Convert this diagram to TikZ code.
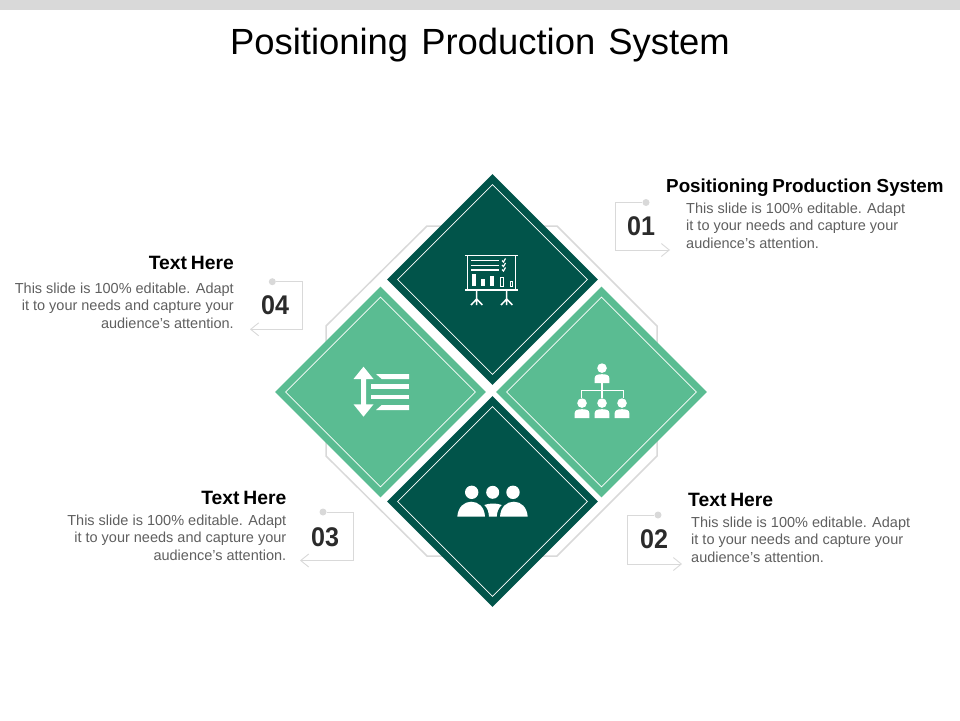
\documentclass[tikz,border=0pt]{standalone}
\usepackage{fontspec}
\setmainfont{Liberation Sans}
\usetikzlibrary{shapes.geometric,arrows.meta}
\definecolor{darkgreen}{HTML}{01544A}
\definecolor{lightgreen}{HTML}{5ABC92}
\definecolor{framegrey}{HTML}{D9D9D9}
\definecolor{bodygrey}{HTML}{5F5F5F}
\definecolor{numgrey}{HTML}{2B2B2B}
\tikzset{
  x=1pt,y=-1pt,
  bigdiamond/.style={diamond,aspect=1,inner sep=0,minimum width=211pt,minimum height=211pt,fill=#1},
  innerdiamond/.style={diamond,aspect=1,inner sep=0,minimum width=190pt,minimum height=190pt,draw=white,line width=0.8pt},
  octaline/.style={draw=framegrey,line width=1.5pt},
  boxline/.style={draw=framegrey,line width=0.9pt,-{Straight Barb[length=8pt,width=13pt,line width=0.9pt]}},
  pin/.style={circle,fill=framegrey,inner sep=0,minimum size=7pt},
  numlabel/.style={font=\bfseries\fontsize{27}{30}\selectfont,text=numgrey,inner sep=0},
  headleft/.style={font=\bfseries\fontsize{18.8}{20}\selectfont,text=black,inner sep=0,anchor=west},
  headright/.style={font=\bfseries\fontsize{19.3}{20}\selectfont,text=black,inner sep=0,anchor=east},
  bodyleft/.style={font=\fontsize{14.5}{17.5}\selectfont,text=bodygrey,inner sep=0,anchor=north west,align=left},
  bodyright/.style={font=\fontsize{14.5}{17.5}\selectfont,text=bodygrey,inner sep=0,anchor=north east,align=right},
  icon/.style={draw=white,line width=1.5pt,line cap=butt},
}
\newcommand{\personicon}[2]{%
  \fill[white] (#1,#2-5.9) circle (4.8);
  \fill[white] (#1-7.3,#2+9) -- (#1-7.3,#2+4) .. controls (#1-7.3,#2+1) and (#1-4,#2+0.2) .. (#1,#2+0.2) .. controls (#1+4,#2+0.2) and (#1+7.3,#2+1) .. (#1+7.3,#2+4) -- (#1+7.3,#2+9) -- cycle;
}
\newcommand{\narrownum}[1]{\scalebox{0.93}[1]{#1}}
\begin{document}
\begin{tikzpicture}
\useasboundingbox (0,0) rectangle (960,720);
\fill[framegrey] (0,0) rectangle (960,10);
\node[font=\fontsize{36.4}{40}\selectfont,text=black,inner sep=0] (title) at (480,45) {Positioning\hspace{3pt} Production\hspace{3pt} System};

% octagon frame
\draw[octaline] (427,226) -- (557,226) -- (657,326) -- (657,456) -- (557,556) -- (427,556) -- (326,456) -- (326,326) -- cycle;

% diamonds
\node[bigdiamond=darkgreen] (dtop) at (492.5,279.5) {};
\node[bigdiamond=lightgreen] (dleft) at (380.5,392) {};
\node[bigdiamond=lightgreen] (dright) at (601.5,392) {};
\node[bigdiamond=darkgreen] (dbottom) at (492.5,501.5) {};
\node[innerdiamond] (itop) at (492.5,279.5) {};
\node[innerdiamond] (ileft) at (380.5,392) {};
\node[innerdiamond] (iright) at (601.5,392) {};
\node[innerdiamond] (ibottom) at (492.5,501.5) {};

% board icon
\draw[icon] (465,255.7) -- (517.7,255.7);
\draw[icon] (465,290) -- (517.7,290);
\draw[icon] (467.3,255.7) -- (467.3,290);
\draw[icon] (515.7,255.7) -- (515.7,290);
\draw[icon,line width=1.2pt] (471,260.7) -- (499,260.7) (471,265.2) -- (499,265.2) (471,270) -- (499,270);
\draw[icon,line width=1.2pt] (502,260.5) -- (503.5,262) -- (505.5,258.5) (502,265) -- (503.5,266.5) -- (505.5,263) (502,269.5) -- (503.5,271) -- (505.5,267.5);
\fill[white] (471.5,274) rectangle (475.5,286);
\fill[white] (481,278.7) rectangle (484.5,286);
\fill[white] (490,276) rectangle (494,286);
\draw[white,line width=1pt] (500,277) rectangle (503.5,286);
\draw[white,line width=1pt] (510,281.5) rectangle (512.5,286);
\draw[icon] (476.7,290) -- (476.7,305) (471,305) -- (476.7,299) -- (482.4,305);
\draw[icon] (506.7,290) -- (506.7,305) (501,305) -- (506.7,299) -- (512.4,305);

% org chart icon
\personicon{602}{374}
\personicon{582}{409}
\personicon{602}{409}
\personicon{622}{409}
\draw[icon] (602,383) -- (602,398) (581.5,398) -- (581.5,390.3) -- (623.5,390.3) -- (623.5,398);

% list icon
\fill[white] (363.5,366.7) -- (373.5,379) -- (366,379) -- (366,404.3) -- (373.5,404.3) -- (363.5,416.7) -- (353.5,404.3) -- (361.2,404.3) -- (361.2,379) -- (353.5,379) -- cycle;
\fill[white] (376,374) -- (409,374) -- (409,379) -- (381.7,379) -- cycle;
\fill[white] (371,384.3) rectangle (409,389);
\fill[white] (371,394.7) rectangle (409,399.3);
\fill[white] (381.7,405) -- (409,405) -- (409,410) -- (376,410) -- cycle;

% people icon
\fill[white] (471.7,492.3) circle (6.7);
\fill[white] (492.7,492.3) circle (6.5);
\fill[white] (513,492.3) circle (6.7);
\fill[white] (457.3,516.7) .. controls (458,507) and (464,501.7) .. (471.2,501.7) .. controls (478.5,501.7) and (484.5,507) .. (485,516.7) -- cycle;
\fill[white] (500,516.7) .. controls (500.5,507) and (506.5,501.7) .. (513.8,501.7) .. controls (521,501.7) and (527,507) .. (527.7,516.7) -- cycle;
\fill[white] (484.3,505) .. controls (489,503) and (497,503) .. (501.7,505) .. controls (498.5,508) and (497,512) .. (496.7,516.7) -- (489,516.7) .. controls (488.7,512) and (487.5,508) .. (484.3,505) -- cycle;

% 01
\node[pin] (pin1) at (646,202.5) {};
\coordinate (tip1) at (670,250);
\coordinate (corner1) at (615,202.5);
\draw[boxline] (pin1) -- (corner1) |- (tip1);
\node[numlabel] (num1) at (641,226.3) {\narrownum{01}};
\node[headleft] (head1) at (666,188) {Positioning\hspace{-1.5pt} Production System};
\node[bodyleft] (body1) at (686,202.6) {This slide is 100\% editable. Adapt\\it to your needs and capture your\\audience’s attention.};

% 02
\node[pin] (pin2) at (658,515) {};
\coordinate (tip2) at (682,564);
\coordinate (corner2) at (627,515);
\draw[boxline] (pin2) -- (corner2) |- (tip2);
\node[numlabel] (num2) at (654,539.3) {\narrownum{02}};
\node[headleft,font=\bfseries\fontsize{19.3}{20}\selectfont] (head2) at (688,500) {Text\hspace{-1.5pt} Here};
\node[bodyleft] (body2) at (691,516.6) {This slide is 100\% editable. Adapt\\it to your needs and capture your\\audience’s attention.};

% 03
\node[pin] (pin3) at (323,512) {};
\coordinate (tip3) at (300,560.5);
\coordinate (corner3) at (353,512);
\draw[boxline] (pin3) -- (corner3) |- (tip3);
\node[numlabel] (num3) at (325,537.3) {\narrownum{03}};
\node[headright] (head3) at (286.5,498) {Text\hspace{-1.5pt} Here};
\node[bodyright] (body3) at (286.5,514.6) {This slide is 100\% editable. Adapt\\it to your needs and capture your\\audience’s attention.};

% 04
\node[pin] (pin4) at (272.3,281.7) {};
\coordinate (tip4) at (250,329.3);
\coordinate (corner4) at (302.3,281.7);
\draw[boxline] (pin4) -- (corner4) |- (tip4);
\node[numlabel] (num4) at (275,305.3) {\narrownum{04}};
\node[headright] (head4) at (234,263) {Text\hspace{-1.5pt} Here};
\node[bodyright] (body4) at (234,282.6) {This slide is 100\% editable. Adapt\\it to your needs and capture your\\audience’s attention.};
\end{tikzpicture}
\end{document}
